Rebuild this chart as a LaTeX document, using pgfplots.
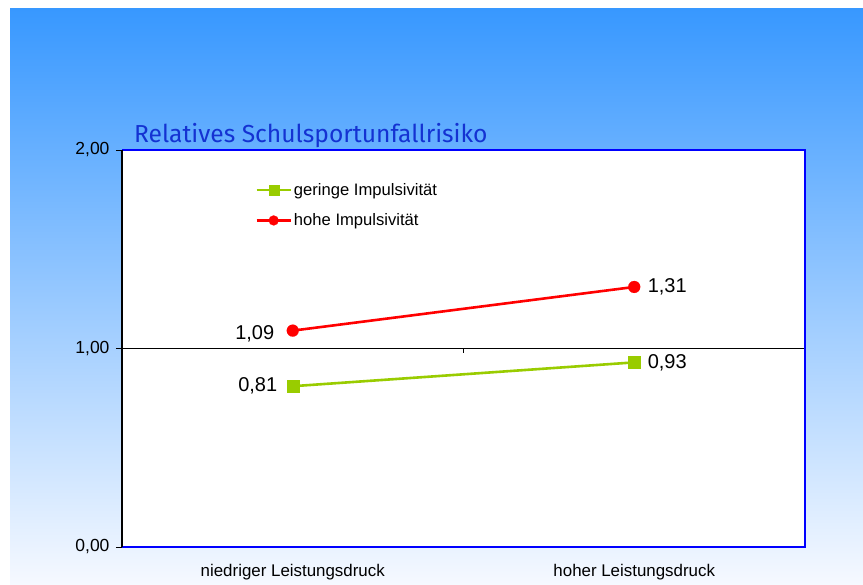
\documentclass[border=0pt]{standalone}
\usepackage{pgfplots}
\pgfplotsset{compat=1.18}
\usepackage{fontspec}
\setmainfont{Liberation Sans}
\newfontfamily\titlefont{Fira Sans}
\definecolor{bgtop}{RGB}{56,152,255}
\definecolor{bgbot}{RGB}{246,249,255}
\definecolor{titleblue}{RGB}{20,50,210}
\definecolor{framblue}{RGB}{0,0,255}
\definecolor{lgreen}{RGB}{153,204,0}
\definecolor{lred}{RGB}{255,0,0}
\begin{document}
\begin{tikzpicture}[x=1pt,y=1pt]
\fill[white] (0,0) rectangle (863,585);
\shade[top color=bgtop, bottom color=bgbot] (10,0) rectangle (863,576);
\begin{axis}[
  at={(122pt,38pt)}, anchor=south west,
  scale only axis, width=683pt, height=397pt,
  xmin=-0.5, xmax=1.5, ymin=0, ymax=2,
  axis line style={draw=none},
  axis background/.style={fill=white},
  xtick={0,1},
  xticklabels={niedriger Leistungsdruck, hoher Leistungsdruck},
  xtick style={draw=none},
  xticklabel style={font=\fontsize{16.9}{20}\selectfont, yshift=-8pt},
  ytick={0,1,2},
  ytick pos=left,
  tick align=outside,
  major tick length=6pt,
  ytick style={black, line width=0.8pt},
  yticklabel={\pgfmathprintnumber[fixed,fixed zerofill,precision=2,use comma]{\tick}},
  yticklabel style={font=\fontsize{17.5}{20}\selectfont, xshift=-3pt},
  /pgf/number format/assume math mode=true,
  legend style={at={(rel axis cs:0.195,0.922)}, anchor=north west, draw=none, fill=none,
    font=\fontsize{16.6}{19}\selectfont, row sep=13pt, inner sep=0pt,
    /tikz/every even column/.append style={column sep=2pt}},
  legend image code/.code={
    \draw[#1, mark size=5pt] (0pt,0pt) -- (17pt,0pt) plot coordinates {(17pt,0pt)} -- (34pt,0pt);
  },
  legend cell align=left,
  clip=false,
]
\draw[black, line width=0.8pt] (axis cs:-0.5,1) -- (axis cs:1.5,1);
\draw[black, line width=0.8pt] (axis cs:0.5,1) -- ([yshift=-5pt]axis cs:0.5,1);
\draw[black, line width=0.8pt] (axis cs:1.5,1) -- ([yshift=-5pt]axis cs:1.5,1);
\draw[framblue, line width=1.6pt] (rel axis cs:0,1) -- (rel axis cs:1,1) -- (rel axis cs:1,0) -- (rel axis cs:0,0);
\draw[black, line width=1.4pt] (rel axis cs:0,0) -- (rel axis cs:0,1);
\addplot[lgreen, line width=2.6pt, mark=square*, mark size=6pt,
  mark options={solid, draw=lgreen, line width=0.1pt}] coordinates {(0,0.81) (1,0.93)};
\addlegendentry{geringe Impulsivität}
\addplot[lred, line width=2.6pt, mark=*, mark size=6pt,
  mark options={solid, draw=lred, line width=0.1pt}] coordinates {(0,1.09) (1,1.31)};
\addlegendentry{hohe Impulsivität}
\node[anchor=east, font=\fontsize{20}{22}\selectfont, xshift=-15pt, yshift=-3pt] at (axis cs:0,1.09) {1,09};
\node[anchor=east, font=\fontsize{20}{22}\selectfont, xshift=-12pt] at (axis cs:0,0.81) {0,81};
\node[anchor=west, font=\fontsize{20}{22}\selectfont, xshift=10pt] at (axis cs:1,1.31) {1,31};
\node[anchor=west, font=\fontsize{20}{22}\selectfont, xshift=10pt] at (axis cs:1,0.93) {0,93};
\node[anchor=base west, inner sep=0pt, text=titleblue, font=\titlefont\fontsize{24.6}{28}\selectfont] at ([xshift=12pt,yshift=7pt]rel axis cs:0,1) {Relatives Schulsportunfallrisiko};
\end{axis}
\end{tikzpicture}
\end{document}
